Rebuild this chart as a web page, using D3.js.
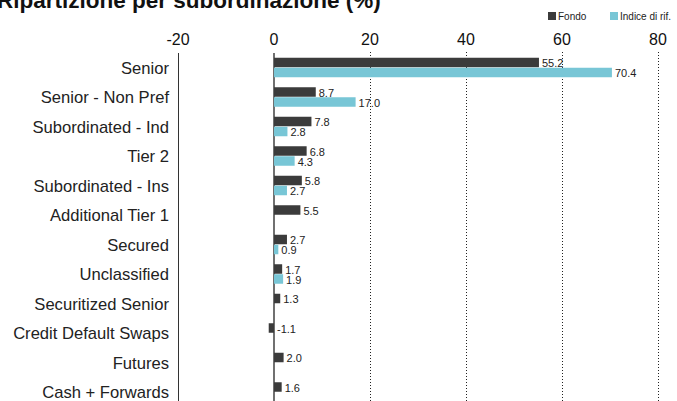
<!DOCTYPE html>
<html>
<head>
<meta charset="utf-8">
<script src="https://cdn.jsdelivr.net/npm/d3@7"></script>
<style>
  body { margin: 0; background: #fff; }
  svg { display: block; font-family: "Liberation Sans", Arial, sans-serif; }
</style>
</head>
<body>
<svg width="677" height="401"></svg>
<script>
var categories = ["Senior", "Senior - Non Pref", "Subordinated - Ind", "Tier 2", "Subordinated - Ins",
                  "Additional Tier 1", "Secured", "Unclassified", "Securitized Senior",
                  "Credit Default Swaps", "Futures", "Cash + Forwards"];
var fondo = [55.2, 8.7, 7.8, 6.8, 5.8, 5.5, 2.7, 1.7, 1.3, -1.1, 2.0, 1.6];
var indice = [70.4, 17.0, 2.8, 4.3, 2.7, null, 0.9, 1.9, null, null, null, null];
var ticks = [-20, 0, 20, 40, 60, 80];
var seriesNames = ["Fondo", "Indice di rif."];
var colors = ["#3b3b3b", "#78c6d6"];

var svg = d3.select("svg");

var x = d3.scaleLinear().domain([-20, 80]).range([178, 658]);
var y = d3.scaleBand().domain(categories).range([53, 407]).padding(0);

// title (cut at top, as in the original)
svg.append("text")
   .attr("x", -3)
   .attr("y", 8)
   .attr("font-size", 22.5)
   .attr("font-weight", "bold")
   .attr("fill", "#111")
   .text("Ripartizione per subordinazione (%)");

// legend
var leg = svg.append("g").attr("transform", "translate(548,12)");
var legX = [0, 62];
seriesNames.forEach(function(n, i) {
    leg.append("rect").attr("x", legX[i]).attr("y", 0).attr("width", 8).attr("height", 8).attr("fill", colors[i]);
    leg.append("text").attr("x", legX[i] + 10).attr("y", 8).attr("font-size", 10).attr("fill", "#222").text(n);
});

// gridlines
svg.append("g").selectAll("line")
   .data(ticks.filter(function(t) { return t > 0; }))
   .enter().append("line")
   .attr("x1", function(d) { return x(d) + 0.5; })
   .attr("x2", function(d) { return x(d) + 0.5; })
   .attr("y1", 52).attr("y2", 401)
   .attr("stroke", "#222").attr("stroke-width", 1).attr("stroke-dasharray", "1,2");

// top tick labels
svg.append("g").selectAll("text")
   .data(ticks)
   .enter().append("text")
   .attr("x", function(d) { return x(d); })
   .attr("y", 45)
   .attr("text-anchor", "middle")
   .attr("font-size", 16)
   .attr("fill", "#111")
   .text(function(d) { return d; });

// left edge and zero line
svg.append("line").attr("x1", x(-20) + 0.5).attr("x2", x(-20) + 0.5).attr("y1", 53).attr("y2", 401)
   .attr("stroke", "#333").attr("stroke-width", 1);
svg.append("line").attr("x1", x(0)).attr("x2", x(0)).attr("y1", 53).attr("y2", 401)
   .attr("stroke", "#111").attr("stroke-width", 1.2);

// category labels
svg.append("g").selectAll("text")
   .data(categories)
   .enter().append("text")
   .attr("x", 169)
   .attr("y", function(d) { return y(d) + y.bandwidth() / 2; })
   .attr("dy", "0.35em")
   .attr("text-anchor", "end")
   .attr("font-size", 16.6)
   .attr("fill", "#222")
   .text(function(d) { return d; });

var barH = 9.5;
var offsets = [-10, 0];
[fondo, indice].forEach(function(vals, s) {
    var rows = categories.map(function(c, i) { return { cat: c, v: vals[i] }; })
                         .filter(function(d) { return d.v !== null; });
    var g = svg.append("g");
    g.selectAll("rect")
     .data(rows)
     .enter().append("rect")
     .attr("x", function(d) { return x(Math.min(0, d.v)); })
     .attr("y", function(d) { return y(d.cat) + y.bandwidth() / 2 + offsets[s]; })
     .attr("width", function(d) { return Math.abs(x(d.v) - x(0)); })
     .attr("height", barH)
     .attr("fill", colors[s]);
    g.selectAll("text")
     .data(rows)
     .enter().append("text")
     .attr("x", function(d) { return x(Math.max(0, d.v)) + 3; })
     .attr("y", function(d) { return y(d.cat) + y.bandwidth() / 2 + offsets[s] + barH / 2 + 1; })
     .attr("dy", "0.35em")
     .attr("font-size", 11)
     .attr("fill", "#222")
     .text(function(d) { return d.v.toFixed(1); });
});
</script>
</body>
</html>
